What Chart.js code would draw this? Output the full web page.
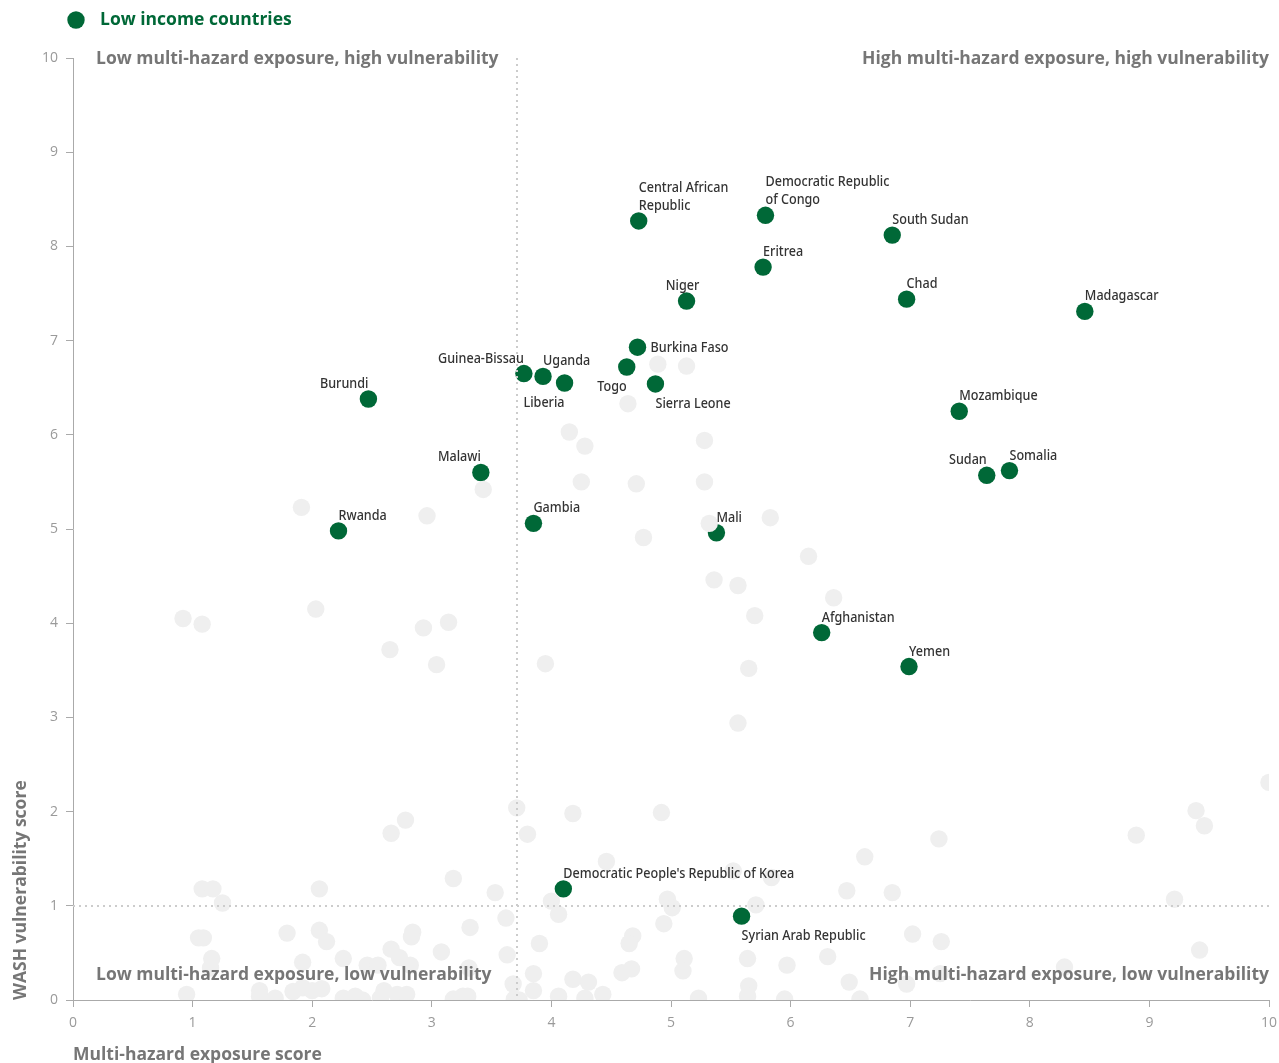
<!DOCTYPE html>
<html lang="en">
<head>
<meta charset="UTF-8">
<title>WASH vulnerability and multi-hazard exposure</title>
<script src="https://cdn.jsdelivr.net/npm/chart.js"></script>
<style>
  html, body { margin: 0; padding: 0; background: #fff; }
  #wrap { width: 1279px; height: 1063px; }
</style>
</head>
<body>
<div id="wrap"><canvas id="myChart"></canvas></div>
<script>
// low income countries (highlighted + labelled)
const countries = [
  "Burundi", "Rwanda", "Malawi", "Gambia", "Guinea-Bissau", "Uganda", "Liberia",
  "Togo", "Burkina Faso", "Sierra Leone", "Niger", "Central African\nRepublic",
  "Democratic Republic\nof Congo", "Eritrea", "South Sudan", "Chad", "Madagascar",
  "Mozambique", "Sudan", "Somalia", "Mali", "Afghanistan", "Yemen",
  "Democratic People's Republic of Korea", "Syrian Arab Republic"
];
const exposure = [
  2.47, 2.22, 3.41, 3.85, 3.77, 3.93, 4.11,
  4.63, 4.72, 4.87, 5.13, 4.73,
  5.79, 5.77, 6.85, 6.97, 8.46,
  7.41, 7.64, 7.83, 5.38, 6.26, 6.99,
  4.10, 5.59
];
const vulnerability = [
  6.38, 4.98, 5.60, 5.06, 6.65, 6.62, 6.55,
  6.72, 6.93, 6.54, 7.42, 8.27,
  8.33, 7.78, 8.12, 7.44, 7.31,
  6.25, 5.57, 5.62, 4.96, 3.90, 3.54,
  1.18, 0.89
];
// where each name sits: a = above, b = below, r = right; L = starts at point, R = ends at point, C = centred
const labelPlace = [
  "aR", "aL", "aR", "aL", "aR", "aL", "bR",
  "bR", "r", "bL", "aC", "aL",
  "aL", "aL", "aL", "aL", "aL",
  "aL", "aR", "aL", "aL", "aL", "aL",
  "aL", "bL"
];

// all other countries (grey)
const otherExposure = [
  4.89, 5.13, 4.64, 4.15, 4.28, 5.28, 4.25, 4.71, 5.28, 5.32, 5.83, 4.77, 6.15, 5.36,
  5.56, 6.36, 5.70, 3.95, 5.65, 5.56, 3.43, 2.96, 1.91, 2.03, 0.92, 1.08, 2.93, 3.14,
  2.65, 3.04,
  3.71, 2.66, 2.78, 3.18, 3.53, 1.08, 1.17, 1.25, 2.06, 1.05, 1.09, 1.79, 2.06, 2.12,
  1.16, 1.15, 1.92, 2.26, 2.46, 2.55, 2.66, 2.73, 2.82, 2.84, 2.83, 3.08, 3.32, 3.31,
  3.62, 3.63, 3.68, 3.69, 0.95, 1.56, 1.56, 1.69, 1.84, 1.92, 2.00, 2.08, 2.26, 2.36,
  2.42, 2.57, 2.60, 2.71, 2.79, 3.18, 3.26, 3.30, 3.80, 3.85, 3.90, 3.85,
  4.18, 4.92, 4.46, 4.00, 4.06, 4.97, 5.01, 4.94, 4.68, 4.65, 5.11, 5.10, 4.59, 4.67,
  4.18, 4.31, 4.06, 4.28, 4.43, 5.23, 3.73,
  6.62, 6.47, 6.85, 5.84, 5.52, 5.71, 7.02, 5.64, 5.97, 6.31, 5.65, 5.64, 5.95, 6.49,
  6.58, 6.97, 7.24, 7.26, 7.25,
  10.0, 9.39, 9.46, 8.89, 9.21, 9.42, 8.29
];
const otherVulnerability = [
  6.75, 6.73, 6.33, 6.03, 5.88, 5.94, 5.50, 5.48, 5.50, 5.06, 5.12, 4.91, 4.71, 4.46,
  4.40, 4.27, 4.08, 3.57, 3.52, 2.94, 5.42, 5.14, 5.23, 4.15, 4.05, 3.99, 3.95, 4.01,
  3.72, 3.56,
  2.04, 1.77, 1.91, 1.29, 1.14, 1.18, 1.18, 1.03, 1.18, 0.66, 0.66, 0.71, 0.74, 0.62,
  0.44, 0.34, 0.40, 0.44, 0.37, 0.37, 0.54, 0.45, 0.37, 0.72, 0.67, 0.51, 0.77, 0.34,
  0.87, 0.48, 0.17, 0.01, 0.06, 0.10, 0.04, 0.02, 0.09, 0.13, 0.10, 0.12, 0.02, 0.04,
  0.00, 0.02, 0.10, 0.06, 0.06, 0.01, 0.04, 0.04, 1.76, 0.28, 0.60, 0.10,
  1.98, 1.99, 1.47, 1.05, 0.91, 1.07, 0.98, 0.81, 0.68, 0.60, 0.44, 0.31, 0.29, 0.33,
  0.22, 0.19, 0.04, 0.02, 0.06, 0.02, 0.00,
  1.52, 1.16, 1.14, 1.30, 1.37, 1.01, 0.70, 0.44, 0.37, 0.46, 0.15, 0.04, 0.01, 0.19,
  0.01, 0.17, 1.71, 0.62, 0.28,
  2.31, 2.01, 1.85, 1.75, 1.07, 0.53, 0.35
];

const exposureSplit = 3.71;
const vulnerabilitySplit = 1;
const quadrantLabels = [
  "Low multi-hazard exposure, high vulnerability",
  "High multi-hazard exposure, high vulnerability",
  "Low multi-hazard exposure, low vulnerability",
  "High multi-hazard exposure, low vulnerability"
];

const green = "#006837";
const grey = "#efefef";

const overlay = {
  id: "overlay",
  afterDatasetsDraw(chart) {
    const { ctx, chartArea: a, scales: { x, y } } = chart;
    ctx.save();

    // dotted quadrant dividers
    ctx.strokeStyle = "#cccccc";
    ctx.lineWidth = 2;
    ctx.setLineDash([2, 4]);
    const sx = Math.round(x.getPixelForValue(exposureSplit));
    const sy = Math.round(y.getPixelForValue(vulnerabilitySplit));
    ctx.beginPath();
    ctx.moveTo(sx, a.top);
    ctx.lineTo(sx, a.bottom);
    ctx.moveTo(a.left, sy);
    ctx.lineTo(a.right, sy);
    ctx.stroke();
    ctx.setLineDash([]);

    // quadrant titles
    ctx.font = "bold 17.5px 'Open Sans'";
    ctx.fillStyle = "#767676";
    ctx.textBaseline = "middle";
    ctx.textAlign = "left";
    ctx.fillText(quadrantLabels[0], a.left + 23, a.top + 1);
    ctx.fillText(quadrantLabels[2], a.left + 23, a.bottom - 25);
    ctx.textAlign = "right";
    ctx.fillText(quadrantLabels[1], a.right, a.top + 1);
    ctx.fillText(quadrantLabels[3], a.right, a.bottom - 25);

    // country names
    ctx.font = "500 15px 'Noto Sans'";
    ctx.fillStyle = "#333333";
    ctx.textBaseline = "alphabetic";
    const meta = chart.getDatasetMeta(1);
    meta.data.forEach((pt, i) => {
      const lines = countries[i].split("\n");
      const place = labelPlace[i];
      let align = "left", tx = pt.x, ty;
      if (place === "r") {
        tx = pt.x + 13;
        ty = pt.y + 5;
      } else if (place[0] === "a") {
        ty = pt.y - 11 - (lines.length - 1) * 18;
      } else {
        ty = pt.y + 24;
      }
      if (place[1] === "R") align = "right";
      if (place[1] === "C") { align = "center"; tx -= 4; }
      lines.forEach((line, j) => {
        ctx.save();
        ctx.translate(tx, ty + j * 18);
        ctx.scale(0.84, 1);
        ctx.textAlign = align;
        ctx.fillText(line, 0, 0);
        ctx.restore();
      });
    });

    // legend
    const ly = a.top - 38;
    ctx.fillStyle = green;
    ctx.beginPath();
    ctx.arc(a.left + 3, ly, 8.7, 0, Math.PI * 2);
    ctx.fill();
    ctx.font = "bold 17.5px 'Open Sans'";
    ctx.textAlign = "left";
    ctx.textBaseline = "middle";
    ctx.fillText(chart.data.datasets[1].label, a.left + 27, ly);

    ctx.restore();
  }
};

const data = {
  datasets: [
    {
      label: "Other countries",
      data: otherExposure.map((v, i) => ({ x: v, y: otherVulnerability[i] })),
      backgroundColor: grey,
      pointRadius: 8.7,
      borderWidth: 0,
    },
    {
      label: "Low income countries",
      data: exposure.map((v, i) => ({ x: v, y: vulnerability[i] })),
      backgroundColor: green,
      pointRadius: 8.7,
      borderWidth: 0,
    },
  ],
};

const config = {
  type: "scatter",
  data: data,
  options: {
    responsive: true,
    maintainAspectRatio: false,
    animation: false,
    layout: { padding: { top: 58, right: 10, left: 0, bottom: 0 } },
    plugins: { legend: { display: false }, tooltip: { enabled: false } },
    scales: {
      x: {
        min: 0, max: 10,
        afterFit: (s) => { s.height = 63; s.paddingLeft = 0; s.paddingRight = 0; },
        ticks: { stepSize: 1, color: "#9a9a9a", font: { family: "'Open Sans'", size: 14 }, padding: 8 },
        grid: { drawOnChartArea: false, drawTicks: true, tickLength: 7, color: "#aaaaaa" },
        border: { color: "#aaaaaa" },
        title: {
          display: true, text: "Multi-hazard exposure score", align: "start",
          color: "#767676", font: { family: "'Open Sans'", size: 17.5, weight: "bold", lineHeight: 1 },
          padding: { top: 0, bottom: -1 },
        },
      },
      y: {
        min: 0, max: 10,
        afterFit: (s) => { s.width = 73; },
        ticks: { stepSize: 1, color: "#9a9a9a", font: { family: "'Open Sans'", size: 14 }, padding: 8 },
        grid: { drawOnChartArea: false, drawTicks: true, tickLength: 7, color: "#aaaaaa" },
        border: { color: "#aaaaaa" },
        title: {
          display: true, text: "WASH vulnerability score", align: "start",
          color: "#767676", font: { family: "'Open Sans'", size: 17.5, weight: "bold", lineHeight: 1 },
          padding: { top: 12, bottom: 0 },
        },
      },
    },
  },
  plugins: [overlay],
};

const myChart = new Chart(document.getElementById("myChart"), config);
</script>
</body>
</html>
